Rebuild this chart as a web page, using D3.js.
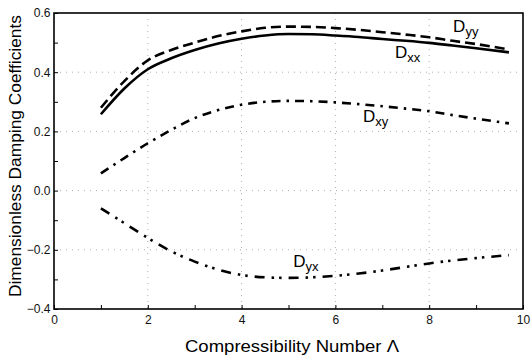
<!DOCTYPE html>
<html>
<head>
<meta charset="utf-8">
<script src="https://cdn.jsdelivr.net/npm/d3@7"></script>
<style>
  body { margin: 0; background: #fff; }
  svg { display: block; font-family: "Liberation Sans", Arial, sans-serif; }
</style>
</head>
<body>
<svg id="chart" width="532" height="357"></svg>
<script>
// compressibility number values
const lambda = [1, 1.5, 2, 2.5, 3, 3.5, 4, 4.5, 5, 5.5, 6, 6.5, 7, 7.5, 8, 8.5, 9, 9.7];

const dxx = [0.258, 0.345, 0.41, 0.447, 0.475, 0.497, 0.513, 0.524, 0.529, 0.528, 0.524, 0.519, 0.512, 0.506, 0.499, 0.49, 0.481, 0.467];
const dyy = [0.28, 0.37, 0.44, 0.475, 0.5, 0.522, 0.538, 0.55, 0.554, 0.553, 0.549, 0.543, 0.535, 0.527, 0.518, 0.506, 0.495, 0.477];
const dxy = [0.058, 0.11, 0.16, 0.205, 0.245, 0.272, 0.29, 0.3, 0.303, 0.302, 0.298, 0.292, 0.285, 0.277, 0.268, 0.255, 0.243, 0.227];
const dyx = [-0.06, -0.11, -0.16, -0.205, -0.24, -0.267, -0.285, -0.293, -0.295, -0.293, -0.288, -0.28, -0.27, -0.258, -0.246, -0.236, -0.228, -0.218];

const xTicks = [0, 2, 4, 6, 8, 10];
const yTicks = [-0.4, -0.2, 0.0, 0.2, 0.4, 0.6];

const series = [
  {name: "xx", values: dxx, dash: null},
  {name: "yy", values: dyy, dash: "10,5"},
  {name: "xy", values: dxy, dash: "9,6,2.5,6"},
  {name: "yx", values: dyx, dash: "10,7,2.5,5,2.5,7"}
];

const labels = [
  {sub: "yy", x: 8.51, y: 0.537},
  {sub: "xx", x: 7.27, y: 0.448},
  {sub: "xy", x: 6.59, y: 0.232},
  {sub: "yx", x: 5.1, y: -0.258}
];

const svg = d3.select('#chart');
const margin = {left: 54, right: 9, top: 13, bottom: 48};
const width = +svg.attr('width');
const height = +svg.attr('height');

const x = d3.scaleLinear().domain([0, 10]).range([margin.left, width - margin.right]);
const y = d3.scaleLinear().domain([-0.4, 0.6]).range([height - margin.bottom, margin.top]);

// dotted grid
svg.append('g')
  .selectAll('line')
  .data(xTicks.slice(1, -1))
  .enter().append('line')
  .attr('x1', d => x(d)).attr('x2', d => x(d))
  .attr('y1', y(0.6)).attr('y2', y(-0.4))
  .attr('stroke', '#999').attr('stroke-width', 0.8).attr('stroke-dasharray', '1,5');

svg.append('g')
  .selectAll('line')
  .data(yTicks.slice(1, -1))
  .enter().append('line')
  .attr('x1', x(0)).attr('x2', x(10))
  .attr('y1', d => y(d)).attr('y2', d => y(d))
  .attr('stroke', '#999').attr('stroke-width', 0.8).attr('stroke-dasharray', '1,5');

// axes, ticks inside
const xAxis = svg.append('g')
  .attr('transform', `translate(0,${y(-0.4)})`)
  .call(d3.axisBottom(x).tickValues(d3.range(0, 11, 1)).tickSize(-4)
    .tickFormat(d => d % 2 === 0 ? d3.format('d')(d) : ''));

const yAxis = svg.append('g')
  .attr('transform', `translate(${x(0)},0)`)
  .call(d3.axisLeft(y).tickValues(d3.range(-4, 7, 1).map(d => d / 10)).tickSize(-4)
    .tickFormat(d => Math.round(d * 10) % 2 === 0 ? d3.format('.1f')(d) : ''));

[xAxis, yAxis].forEach(a => {
  a.select('.domain').remove();
  a.selectAll('line').attr('stroke', '#000').attr('stroke-width', 1);
  a.selectAll('text').attr('font-size', 12).attr('fill', '#111')
    .attr('font-family', '"Liberation Sans", Arial, sans-serif');
});
xAxis.selectAll('text').attr('dy', '1.0em');
yAxis.selectAll('text').attr('dx', '-0.05em');

// frame
svg.append('rect')
  .attr('x', x(0)).attr('y', y(0.6))
  .attr('width', x(10) - x(0)).attr('height', y(-0.4) - y(0.6))
  .attr('fill', 'none').attr('stroke', '#000').attr('stroke-width', 1.6);

// curves
const line = d3.line()
  .x((d, i) => x(lambda[i]))
  .y(d => y(d))
  .curve(d3.curveMonotoneX);

svg.append('g')
  .selectAll('path')
  .data(series)
  .enter().append('path')
  .attr('d', d => line(d.values))
  .attr('fill', 'none')
  .attr('stroke', '#000')
  .attr('stroke-width', 2.6)
  .attr('stroke-dasharray', d => d.dash);

// curve labels
const lab = svg.append('g')
  .selectAll('text')
  .data(labels)
  .enter().append('text')
  .attr('x', d => x(d.x))
  .attr('y', d => y(d.y))
  .attr('font-size', 17)
  .attr('font-family', '"Liberation Sans", Arial, sans-serif');
lab.append('tspan').text('D');
lab.append('tspan').attr('dy', 4).attr('font-size', 13).text(d => d.sub);

// axis titles
svg.append('text')
  .attr('x', 292)
  .attr('y', 352)
  .attr('text-anchor', 'middle')
  .attr('font-size', 17)
  .attr('textLength', 214)
  .attr('lengthAdjust', 'spacingAndGlyphs')
  .text('Compressibility Number Λ');

svg.append('text')
  .attr('transform', `translate(21,156) rotate(-90)`)
  .attr('text-anchor', 'middle')
  .attr('font-size', 17)
  .attr('textLength', 282)
  .attr('lengthAdjust', 'spacingAndGlyphs')
  .text('Dimensionless Damping Coefficients');
</script>
</body>
</html>
